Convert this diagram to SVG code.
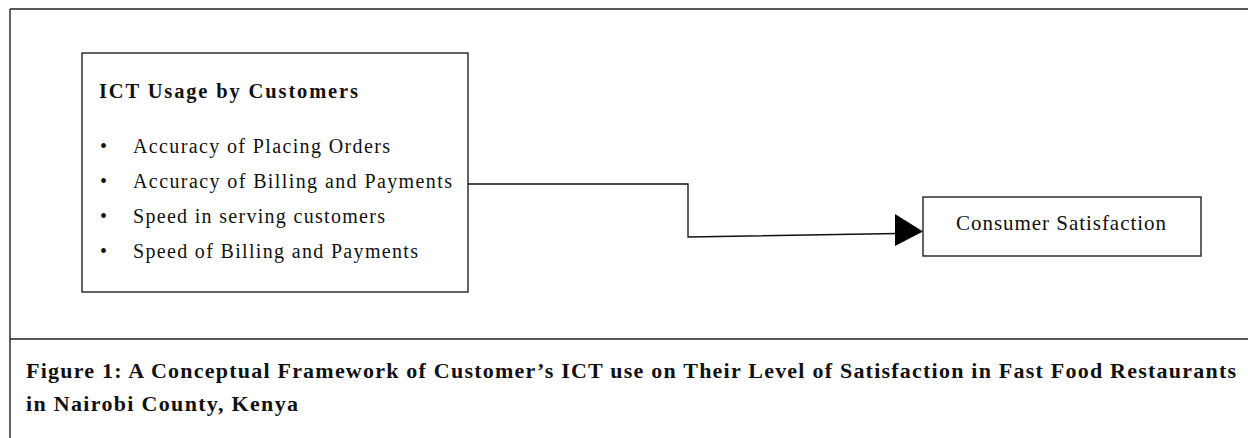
<svg xmlns="http://www.w3.org/2000/svg" width="1248" height="438" viewBox="0 0 1248 438">
<style>
.frame{stroke:#222;stroke-width:1.4;fill:none}
.box{fill:#fff;stroke:#222;stroke-width:1.4}
.t{font-family:"Liberation Serif","Times New Roman",serif;fill:#111}
.b{font-weight:bold}
.conn{fill:none;stroke:#111;stroke-width:1.3}
</style>
<rect width="1248" height="438" fill="#fff"/>
<g id="frame">
<path class="frame" d="M10,9 H1248 M10,9 V438 M10,339 H1248"/>
</g>
<g id="node-ict">
<rect class="box" x="82" y="53" width="386" height="239"/>
<text class="t b" x="99" y="98" font-size="20.5" textLength="259" lengthAdjust="spacing">ICT Usage by Customers</text>
<g class="t" font-size="20">
<text x="100" y="153">•</text>
<text x="133" y="153" textLength="257" lengthAdjust="spacing">Accuracy of Placing Orders</text>
<text x="100" y="188">•</text>
<text x="133" y="188" textLength="319" lengthAdjust="spacing">Accuracy of Billing and Payments</text>
<text x="100" y="223">•</text>
<text x="133" y="223" textLength="252" lengthAdjust="spacing">Speed in serving customers</text>
<text x="100" y="258">•</text>
<text x="133" y="258" textLength="285" lengthAdjust="spacing">Speed of Billing and Payments</text>
</g>
</g>
<g id="node-satisfaction">
<rect class="box" x="923" y="197" width="278" height="59"/>
<text class="t" x="956" y="230" font-size="21" textLength="210" lengthAdjust="spacing">Consumer Satisfaction</text>
</g>
<g id="connectors">
<polyline class="conn" points="468,184 688,184 688,237 897,233.5"/>
<polygon points="895,214 923,231.5 895,246" fill="#000"/>
</g>
<g id="caption" class="t b" font-size="22">
<text x="26" y="378" textLength="1210" lengthAdjust="spacing">Figure 1: A Conceptual Framework of Customer’s ICT use on Their Level of Satisfaction in Fast Food Restaurants</text>
<text x="26" y="411" textLength="272" lengthAdjust="spacing">in Nairobi County, Kenya</text>
</g>
</svg>
